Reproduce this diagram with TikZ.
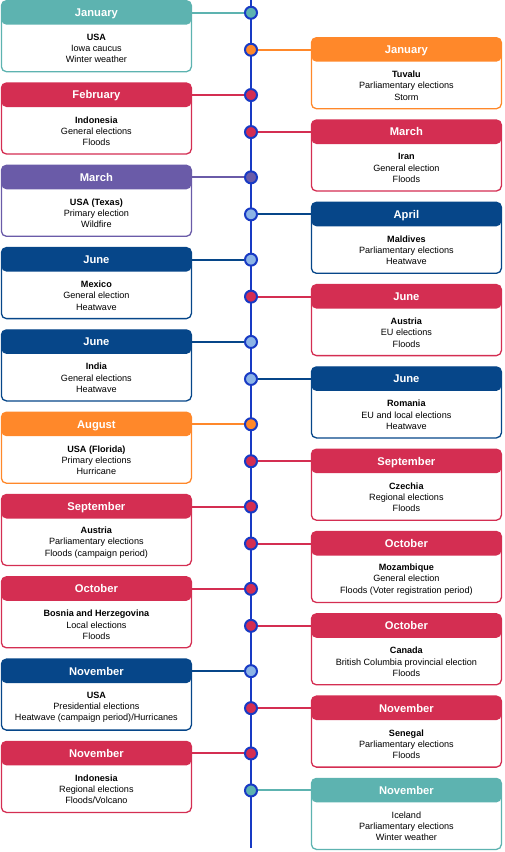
\documentclass[tikz,border=0pt]{standalone}
\usepackage{fontspec}
\setmainfont{Liberation Sans}
\usepackage{tikz}
\usetikzlibrary{
  positioning,
  backgrounds
}
\definecolor{tealcol}{RGB}{93,179,176}
\definecolor{orangecol}{RGB}{255,136,42}
\definecolor{redcol}{RGB}{212,46,82}
\definecolor{purplecol}{RGB}{106,91,168}
\definecolor{navycol}{RGB}{6,70,137}
\definecolor{lineblue}{RGB}{24,58,196}
\definecolor{dotblue}{RGB}{140,180,230}
\tikzset{
  cardbox/.style={
    draw=#1, fill=white, line width=1.3pt, rounded corners=5pt,
    minimum width=190pt, minimum height=71pt, inner sep=0pt,
    path picture={\fill[#1] ([yshift=2pt]path picture bounding box.north west)
      rectangle ([yshift=-24pt]path picture bounding box.north east);}
  },
  monthhead/.style={
    text=white, font=\fontsize{11.2}{13}\selectfont\bfseries,
    minimum width=190pt, minimum height=25pt, inner sep=0pt,
    text height=8.4pt, text depth=0.6pt
  },
  cardtext/.style={
    font=\fontsize{9.1}{11.2}\selectfont, align=center,
    minimum height=46pt, inner sep=0pt
  },
  tdot/.style={
    circle, draw=lineblue, fill=#1, line width=2pt,
    minimum size=12pt, inner sep=0pt
  },
  link/.style={draw=#1, line width=2pt},
  timeline/.style={draw=lineblue, line width=2.6pt}
}

\begin{document}
\begin{tikzpicture}[x=1pt, y=1pt, node distance=10pt]
    \useasboundingbox (0,0) rectangle (504,-852);

    % Timeline ends
    \coordinate (tltop) at (251,0);
    \coordinate (tlbot) at (251,-848);

    % Left column
    \node[cardbox=tealcol] (c1) at (96.4,-36.2) {};
    \node[monthhead, below=0pt of c1.north] (m1) {January};
    \node[cardtext, below=0pt of m1] (t1) {\textbf{USA}\\Iowa caucus\\Winter weather};

    \node[cardbox=redcol, below=of c1] (c2) {};
    \node[monthhead, below=0pt of c2.north] (m2) {February};
    \node[cardtext, below=0pt of m2] (t2) {\textbf{Indonesia}\\General elections\\Floods};

    \node[cardbox=purplecol, below=of c2] (c3) {};
    \node[monthhead, below=0pt of c3.north] (m3) {March};
    \node[cardtext, below=0pt of m3] (t3) {\textbf{USA (Texas)}\\Primary election\\Wildfire};

    \node[cardbox=navycol, below=of c3] (c4) {};
    \node[monthhead, below=0pt of c4.north] (m4) {June};
    \node[cardtext, below=0pt of m4] (t4) {\textbf{Mexico}\\General election\\Heatwave};

    \node[cardbox=navycol, below=of c4] (c5) {};
    \node[monthhead, below=0pt of c5.north] (m5) {June};
    \node[cardtext, below=0pt of m5] (t5) {\textbf{India}\\General elections\\Heatwave};

    \node[cardbox=orangecol, below=of c5] (c6) {};
    \node[monthhead, below=0pt of c6.north] (m6) {August};
    \node[cardtext, below=0pt of m6] (t6) {\textbf{USA (Florida)}\\Primary elections\\Hurricane};

    \node[cardbox=redcol, below=of c6] (c7) {};
    \node[monthhead, below=0pt of c7.north] (m7) {September};
    \node[cardtext, below=0pt of m7] (t7) {\textbf{Austria}\\Parliamentary elections\\Floods (campaign period)};

    \node[cardbox=redcol, below=of c7] (c8) {};
    \node[monthhead, below=0pt of c8.north] (m8) {October};
    \node[cardtext, below=0pt of m8] (t8) {\textbf{Bosnia and Herzegovina}\\Local elections\\Floods};

    \node[cardbox=navycol, below=of c8] (c9) {};
    \node[monthhead, below=0pt of c9.north] (m9) {November};
    \node[cardtext, below=0pt of m9] (t9) {\textbf{USA}\\Presidential elections\\Heatwave (campaign period)/Hurricanes};

    \node[cardbox=redcol, below=of c9] (c10) {};
    \node[monthhead, below=0pt of c10.north] (m10) {November};
    \node[cardtext, below=0pt of m10] (t10) {\textbf{Indonesia}\\Regional elections\\Floods/Volcano};

    % Right column
    \node[cardbox=orangecol] (c11) at (406.4,-73.2) {};
    \node[monthhead, below=0pt of c11.north] (m11) {January};
    \node[cardtext, below=0pt of m11] (t11) {\textbf{Tuvalu}\\Parliamentary elections\\Storm};

    \node[cardbox=redcol, below=of c11] (c12) {};
    \node[monthhead, below=0pt of c12.north] (m12) {March};
    \node[cardtext, below=0pt of m12] (t12) {\textbf{Iran}\\General election\\Floods};

    \node[cardbox=navycol, below=of c12] (c13) {};
    \node[monthhead, below=0pt of c13.north] (m13) {April};
    \node[cardtext, below=0pt of m13] (t13) {\textbf{Maldives}\\Parliamentary elections\\Heatwave};

    \node[cardbox=redcol, below=of c13] (c14) {};
    \node[monthhead, below=0pt of c14.north] (m14) {June};
    \node[cardtext, below=0pt of m14] (t14) {\textbf{Austria}\\EU elections\\Floods};

    \node[cardbox=navycol, below=of c14] (c15) {};
    \node[monthhead, below=0pt of c15.north] (m15) {June};
    \node[cardtext, below=0pt of m15] (t15) {\textbf{Romania}\\EU and local elections\\Heatwave};

    \node[cardbox=redcol, below=of c15] (c16) {};
    \node[monthhead, below=0pt of c16.north] (m16) {September};
    \node[cardtext, below=0pt of m16] (t16) {\textbf{Czechia}\\Regional elections\\Floods};

    \node[cardbox=redcol, below=of c16] (c17) {};
    \node[monthhead, below=0pt of c17.north] (m17) {October};
    \node[cardtext, below=0pt of m17] (t17) {\textbf{Mozambique}\\General election\\Floods (Voter registration period)};

    \node[cardbox=redcol, below=of c17] (c18) {};
    \node[monthhead, below=0pt of c18.north] (m18) {October};
    \node[cardtext, below=0pt of m18] (t18) {\textbf{Canada}\\British Columbia provincial election\\Floods};

    \node[cardbox=redcol, below=of c18] (c19) {};
    \node[monthhead, below=0pt of c19.north] (m19) {November};
    \node[cardtext, below=0pt of m19] (t19) {\textbf{Senegal}\\Parliamentary elections\\Floods};

    \node[cardbox=tealcol, below=of c19] (c20) {};
    \node[monthhead, below=0pt of c20.north] (m20) {November};
    \node[cardtext, below=0pt of m20] (t20) {Iceland\\Parliamentary elections\\Winter weather};

    % Dots on the timeline
    \node[tdot=tealcol] (d1) at (m1 -| tltop) {};
    \node[tdot=redcol] (d2) at (m2 -| tltop) {};
    \node[tdot=purplecol] (d3) at (m3 -| tltop) {};
    \node[tdot=dotblue] (d4) at (m4 -| tltop) {};
    \node[tdot=dotblue] (d5) at (m5 -| tltop) {};
    \node[tdot=orangecol] (d6) at (m6 -| tltop) {};
    \node[tdot=redcol] (d7) at (m7 -| tltop) {};
    \node[tdot=redcol] (d8) at (m8 -| tltop) {};
    \node[tdot=dotblue] (d9) at (m9 -| tltop) {};
    \node[tdot=redcol] (d10) at (m10 -| tltop) {};
    \node[tdot=orangecol] (d11) at (m11 -| tltop) {};
    \node[tdot=redcol] (d12) at (m12 -| tltop) {};
    \node[tdot=dotblue] (d13) at (m13 -| tltop) {};
    \node[tdot=redcol] (d14) at (m14 -| tltop) {};
    \node[tdot=dotblue] (d15) at (m15 -| tltop) {};
    \node[tdot=redcol] (d16) at (m16 -| tltop) {};
    \node[tdot=redcol] (d17) at (m17 -| tltop) {};
    \node[tdot=redcol] (d18) at (m18 -| tltop) {};
    \node[tdot=redcol] (d19) at (m19 -| tltop) {};
    \node[tdot=tealcol] (d20) at (m20 -| tltop) {};

    \begin{scope}[on background layer]
      % Timeline
      \draw[timeline] (tltop) -- (tlbot);

      % Links: left cards -> timeline
      \draw[link=tealcol] (m1.east) -- (d1);
      \draw[link=redcol] (m2.east) -- (d2);
      \draw[link=purplecol] (m3.east) -- (d3);
      \draw[link=navycol] (m4.east) -- (d4);
      \draw[link=navycol] (m5.east) -- (d5);
      \draw[link=orangecol] (m6.east) -- (d6);
      \draw[link=redcol] (m7.east) -- (d7);
      \draw[link=redcol] (m8.east) -- (d8);
      \draw[link=navycol] (m9.east) -- (d9);
      \draw[link=redcol] (m10.east) -- (d10);

      % Links: timeline -> right cards
      \draw[link=orangecol] (d11) -- (m11.west);
      \draw[link=redcol] (d12) -- (m12.west);
      \draw[link=navycol] (d13) -- (m13.west);
      \draw[link=redcol] (d14) -- (m14.west);
      \draw[link=navycol] (d15) -- (m15.west);
      \draw[link=redcol] (d16) -- (m16.west);
      \draw[link=redcol] (d17) -- (m17.west);
      \draw[link=redcol] (d18) -- (m18.west);
      \draw[link=redcol] (d19) -- (m19.west);
      \draw[link=tealcol] (d20) -- (m20.west);
    \end{scope}

  \end{tikzpicture}
\end{document}
